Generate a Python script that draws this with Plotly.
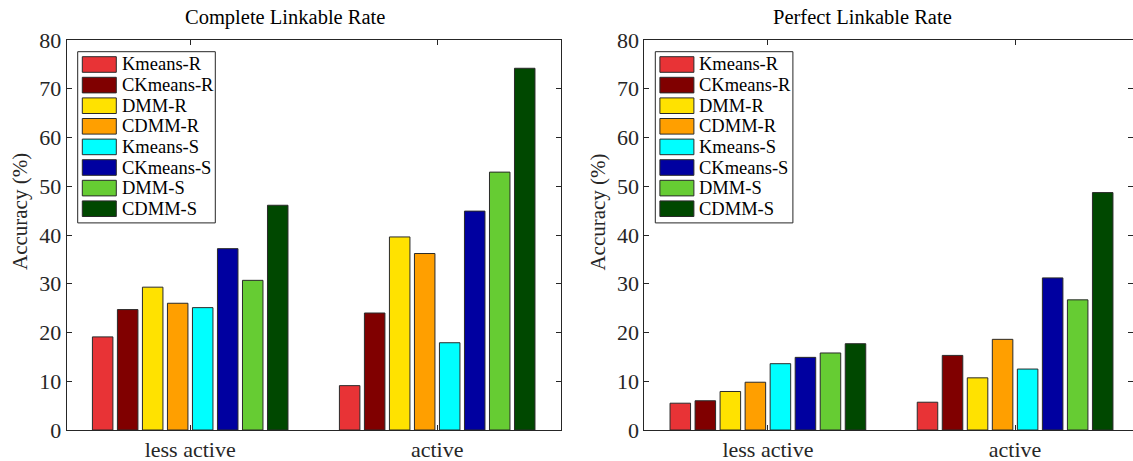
import plotly.graph_objects as go

# ---------------- data ----------------
categories = ["less active", "active"]
methods = ["Kmeans-R", "CKmeans-R", "DMM-R", "CDMM-R",
           "Kmeans-S", "CKmeans-S", "DMM-S", "CDMM-S"]
colors = ["#E83336", "#800000", "#FFE200", "#FF9F00",
          "#00FFFF", "#0000A0", "#66CC33", "#004800"]

complete_less = [19.1, 24.7, 29.3, 26.0, 25.1, 37.2, 30.7, 46.1]
complete_active = [9.1, 24.0, 39.6, 36.2, 17.9, 44.9, 52.9, 74.2]
perfect_less = [5.5, 6.0, 7.9, 9.8, 13.6, 14.9, 15.8, 17.7]
perfect_active = [5.7, 15.3, 10.7, 18.6, 12.5, 31.2, 26.7, 48.7]

titles = ["Complete Linkable Rate", "Perfect Linkable Rate"]
y_label = "Accuracy (%)"
y_ticks = [0, 10, 20, 30, 40, 50, 60, 70, 80]

# ---------------- layout helpers ----------------
W, H = 1133, 461
FONT = "Liberation Serif"
AX = "#262626"


def px(x):
    return x / W


def py(y):
    return 1 - y / H


fig = go.Figure()
xpos = [1, 2]
panels = [
    ("x", "y", complete_less, complete_active),
    ("x2", "y2", perfect_less, perfect_active),
]
for xa, ya, less, act in panels:
    for i, m in enumerate(methods):
        fig.add_trace(go.Bar(
            x=xpos, y=[less[i], act[i]], name=m,
            xaxis=xa, yaxis=ya, showlegend=False,
            marker=dict(color=colors[i], line=dict(color="#2a2a2a", width=1)),
        ))

axis_common = dict(
    showline=True, linecolor=AX, linewidth=1, mirror="ticks",
    ticks="inside", ticklen=5, tickcolor=AX, tickwidth=1,
    showgrid=False, zeroline=False, automargin=False,
    tickfont=dict(family=FONT, size=22, color=AX),
)

plot_left = [66.7, 644.3]
plot_right = [560.7, 1138.7]
top_px, bot_px = 40, 430

layout = dict(
    width=W, height=H,
    margin=dict(l=0, r=0, t=0, b=0),
    paper_bgcolor="white", plot_bgcolor="white",
    barmode="group", bargap=0.19, bargroupgap=0.18,
    template="none",
    showlegend=False,
)

for k in range(2):
    sfx = "" if k == 0 else "2"
    L, R = plot_left[k], plot_right[k]
    unit = (R - L) / 2.0
    R_vis = min(R, W)
    xmax = 0.5 + (R_vis - L) / unit
    layout["xaxis" + sfx] = dict(
        axis_common, domain=[px(L), px(R_vis)], range=[0.5, xmax],
        tickvals=xpos, ticktext=categories, anchor="y" + sfx,
    )
    layout["yaxis" + sfx] = dict(
        axis_common, domain=[py(bot_px), py(top_px)], range=[0, 80],
        tickvals=y_ticks, anchor="x" + sfx,
    )

fig.update_layout(**layout)

annotations = []
shapes = []
title_dx = 218.3
for k in range(2):
    L = plot_left[k]
    # title
    annotations.append(dict(
        x=px(L + title_dx), y=py(17), xref="paper", yref="paper",
        text=titles[k], showarrow=False, xanchor="center", yanchor="middle",
        font=dict(family=FONT, size=20.5, color="black"),
    ))
    # y label
    annotations.append(dict(
        x=px(L - 46.7), y=py(212), xref="paper", yref="paper",
        text=y_label, showarrow=False, textangle=-90,
        xanchor="center", yanchor="middle",
        font=dict(family=FONT, size=21, color=AX),
    ))
    # legend box
    bx0, bx1, by0, by1 = L + 11.0, L + 148.6, 51.7, 222.9
    shapes.append(dict(
        type="rect", xref="paper", yref="paper",
        x0=px(bx0), x1=px(bx1), y0=py(by1), y1=py(by0),
        line=dict(color=AX, width=1), fillcolor="white", layer="above",
    ))
    for i, m in enumerate(methods):
        cy = 64.5 + i * 20.6
        shapes.append(dict(
            type="rect", xref="paper", yref="paper",
            x0=px(L + 15.6), x1=px(L + 49.6),
            y0=py(cy + 7.8), y1=py(cy - 7.8),
            line=dict(color="#2a2a2a", width=1), fillcolor=colors[i],
            layer="above",
        ))
        annotations.append(dict(
            x=px(L + 53.0), y=py(cy), xref="paper", yref="paper",
            text=m, showarrow=False, xanchor="left", yanchor="middle",
            font=dict(family=FONT, size=18.5, color="black"),
        ))

fig.update_layout(annotations=annotations, shapes=shapes)

fig.write_html(
    "out.html",
    config={"displayModeBar": False},
    post_script="document.body.style.margin='0';"
                "document.body.style.overflow='hidden';",
)
